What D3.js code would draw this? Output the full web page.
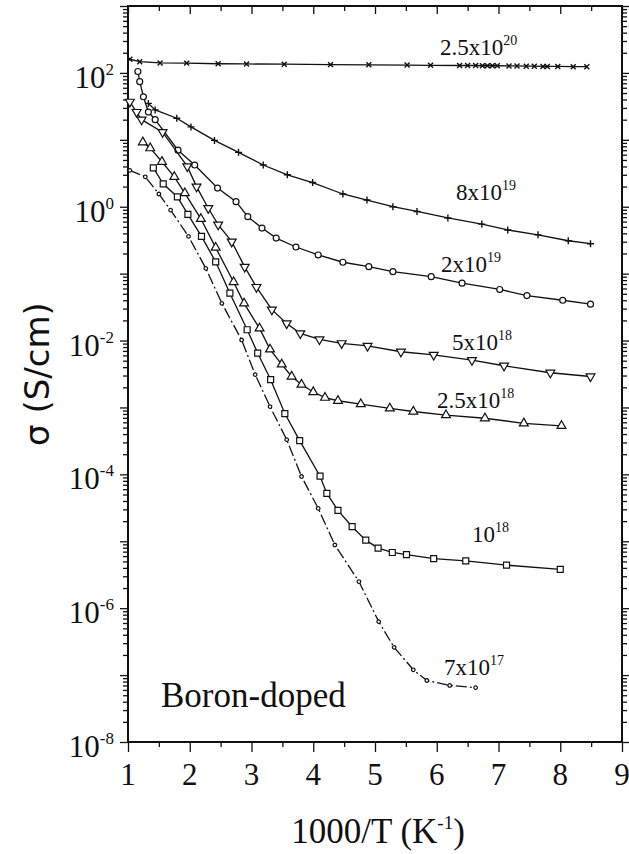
<!DOCTYPE html>
<html><head><meta charset="utf-8">
<script src="https://cdn.jsdelivr.net/npm/d3@7"></script>
<style>html,body{margin:0;padding:0;background:#fff;}svg{display:block;}</style>
</head><body><svg id="c" width="629" height="854"></svg>
<script>
// ---------- data ----------
const xTicks = [1,2,3,4,5,6,7,8,9];
const yLabelExps = [2,0,-2,-4,-6,-8];

const x25e20 = [1.03,1.19,1.52,1.95,2.46,2.92,3.53,4.28,4.90,5.52,5.90,6.37,6.50,6.63,6.74,6.82,6.90,6.98,7.17,7.30,7.45,7.58,7.72,7.79,7.96,8.21,8.43];
const y25e20 = [160,147,141,140,137,136,135,133,132,131,130,129,129,129,128,128,128,128,127,127,126,126,125,125,125,124,124];

const x8e19 = [1.33,1.44,1.79,2.02,2.40,2.79,3.19,3.58,3.99,4.48,4.87,5.29,5.68,6.18,6.73,7.15,7.64,8.13,8.49];
const y8e19 = [35,28,21,15.6,9.8,6.5,4.2,3.0,2.3,1.55,1.26,1.0,0.85,0.68,0.55,0.45,0.38,0.31,0.28];

const x2e19 = [1.16,1.19,1.25,1.33,1.44,1.81,2.08,2.45,2.75,2.94,3.17,3.40,3.72,4.08,4.48,4.90,5.29,5.91,6.41,7.02,7.46,8.04,8.49];
const y2e19 = [105,74,44,26,20,7,4.2,1.9,1.19,0.71,0.48,0.34,0.25,0.19,0.148,0.127,0.107,0.090,0.072,0.058,0.047,0.040,0.035];

const x5e18 = [1.03,1.14,1.22,1.56,1.96,2.11,2.30,2.46,2.68,2.89,3.08,3.33,3.57,3.79,4.10,4.46,4.88,5.42,5.95,6.57,7.09,7.84,8.49];
const y5e18 = [37,26,20,13,4.0,2.0,0.95,0.54,0.30,0.126,0.063,0.029,0.018,0.0128,0.0104,0.0091,0.0083,0.0068,0.0061,0.0051,0.0042,0.0033,0.0029];

const x25e18 = [1.24,1.36,1.55,1.75,1.92,2.18,2.42,2.71,2.88,3.13,3.30,3.49,3.65,3.81,4.0,4.19,4.40,4.77,5.24,5.62,6.15,6.78,7.41,8.02];
const y25e18 = [9.2,7.5,4.7,2.8,1.6,0.66,0.245,0.075,0.036,0.0152,0.0074,0.0044,0.0029,0.0022,0.0017,0.0014,0.00126,0.00112,0.00097,0.00087,0.00077,0.00069,0.00058,0.00053];

const x1e18 = [1.41,1.57,1.80,1.97,2.19,2.42,2.65,2.93,3.10,3.31,3.54,3.78,4.11,4.22,4.40,4.63,4.85,5.05,5.28,5.51,5.95,6.47,7.13,8.00];
const y1e18 = [3.8,2.2,1.4,0.77,0.36,0.15,0.051,0.0145,0.0065,0.0026,0.00081,0.00032,9.4e-5,5.2e-5,2.9e-5,1.65e-5,1.04e-5,7.9e-6,6.8e-6,6.3e-6,5.5e-6,5.1e-6,4.4e-6,3.8e-6];

const x7e17 = [1.03,1.28,1.50,1.69,1.98,2.26,2.52,2.84,3.06,3.30,3.57,3.81,4.08,4.35,4.74,5.06,5.31,5.62,5.84,6.21,6.63];
const y7e17 = [3.5,2.8,1.55,0.89,0.36,0.12,0.036,0.0102,0.0031,0.00103,0.00033,9.3e-5,3.1e-5,8.8e-6,2.5e-6,6.3e-7,2.6e-7,1.2e-7,8.3e-8,7e-8,6.5e-8];

const seriesNames = ["2.5x10^20","8x10^19","2x10^19","5x10^18","2.5x10^18","10^18","7x10^17"];

// ---------- layout ----------
const svg = d3.select("#c");
const L = 128, R = 622, T = 6, B = 742;
const x = d3.scaleLinear().domain([1,9]).range([L,R]);
const y = d3.scaleLog().domain([1e-8,1e3]).range([B,T]);
const serif = "'Liberation Serif','Times New Roman',serif";

// ---------- axes ticks ----------
const majY = d3.range(-8,4).map(e=>Math.pow(10,e));
const minY = [];
for (let e=-8;e<3;e++) for (let m=2;m<=9;m++) minY.push(m*Math.pow(10,e));
const majX = xTicks;
const minX = d3.range(1.5,9,1);

function tickAxis(gen, vals, size, tx, ty){
  const g = svg.append("g").attr("transform",`translate(${tx},${ty})`)
    .call(gen.tickValues(vals).tickSize(size).tickFormat(""));
  g.select(".domain").remove();
  g.selectAll("line").attr("stroke","#111").attr("stroke-width",1.3);
  return g;
}
tickAxis(d3.axisLeft(y), majY, 8, L, 0);
tickAxis(d3.axisLeft(y), minY, 5, L, 0);
tickAxis(d3.axisLeft(y), majY, -8, R, 0);
tickAxis(d3.axisLeft(y), minY, -5, R, 0);
tickAxis(d3.axisBottom(x), majX, 10, 0, B);
tickAxis(d3.axisBottom(x), minX, 5, 0, B);
tickAxis(d3.axisTop(x), majX, -8, 0, T);
tickAxis(d3.axisTop(x), minX, -5, 0, T);

// frame
svg.append("rect").attr("x",L).attr("y",T).attr("width",R-L).attr("height",B-T)
  .attr("fill","none").attr("stroke","#111").attr("stroke-width",2);

// x tick labels
svg.append("g").selectAll("text").data(xTicks).join("text")
  .attr("x",d=>x(d)).attr("y",785).attr("text-anchor","middle")
  .attr("font-family",serif).attr("font-size",31).attr("fill","#111").text(d=>d);

// y tick labels
const yl = svg.append("g").selectAll("text").data(yLabelExps).join("text")
  .attr("x",114).attr("y",d=>y(Math.pow(10,d))+15).attr("text-anchor","end")
  .attr("font-family",serif).attr("font-size",31).attr("fill","#111");
yl.append("tspan").text("10");
yl.append("tspan").attr("dy",-13).attr("font-size",17).text(d=>String(d));

// axis titles
svg.append("text").attr("x",378).attr("y",843).attr("text-anchor","middle")
  .attr("font-family",serif).attr("font-size",35).attr("fill","#111")
  .call(t=>{t.append("tspan").text("1000/T (K");
            t.append("tspan").attr("dy",-14).attr("font-size",19).text("-1");
            t.append("tspan").attr("dy",14).text(")");});
svg.append("text").attr("transform","translate(49,374) rotate(-90)").attr("text-anchor","middle")
  .attr("font-family","'DejaVu Sans',sans-serif").attr("font-size",34).attr("fill","#111")
  .text("σ (S/cm)");

svg.append("text").attr("x",161).attr("y",707).attr("font-family",serif)
  .attr("font-size",35).attr("fill","#111").text("Boron-doped");

// ---------- series ----------
const line = d3.line().x(d=>x(d[0])).y(d=>y(d[1]));
const zip = (a,b)=>a.map((v,i)=>[v,b[i]]);
const series = [
  {xs:x25e20, ys:y25e20, m:"x", dash:null},
  {xs:x8e19, ys:y8e19, m:"+", dash:null},
  {xs:x2e19, ys:y2e19, m:"o", dash:null},
  {xs:x5e18, ys:y5e18, m:"tdown", dash:null},
  {xs:x25e18, ys:y25e18, m:"tup", dash:null},
  {xs:x1e18, ys:y1e18, m:"sq", dash:null},
  {xs:x7e17, ys:y7e17, m:"dot", dash:"11,3,2,3"}
];
const symMap = {x:d3.symbolCross, "+":d3.symbolCross, o:d3.symbolCircle, tdown:d3.symbolTriangle,
  tup:d3.symbolTriangle, sq:d3.symbolSquare, dot:d3.symbolCircle};
series.forEach(s=>{
  const pts = zip(s.xs,s.ys);
  svg.append("path").attr("d",line(pts)).attr("fill","none").attr("stroke","#111")
    .attr("stroke-width",1.3).attr("stroke-dasharray",s.dash);
  const g = svg.append("g");
  pts.forEach(p=>{
    const cx = x(p[0]), cy = y(p[1]);
    if (s.m==="x" || s.m==="+") {
      const r = 3.5, rot = s.m==="x"?45:0;
      g.append("path").attr("transform",`translate(${cx},${cy}) rotate(${rot})`)
        .attr("d",`M${-r},0H${r}M0,${-r}V${r}`).attr("stroke","#111").attr("stroke-width",1.4);
    } else {
      const size = {o:28, tdown:34, tup:34, sq:36, dot:10}[s.m];
      const rot = s.m==="tdown"?180:0;
      g.append("path").attr("transform",`translate(${cx},${cy}) rotate(${rot})`)
        .attr("d",d3.symbol(symMap[s.m],size)()).attr("fill","#fff").attr("stroke","#111").attr("stroke-width",1.2);
    }
  });
});

// series labels
const labels = [
  {t:"2.5x10", s:"20", x:440, y:55},
  {t:"8x10", s:"19", x:456, y:200},
  {t:"2x10", s:"19", x:441, y:272},
  {t:"5x10", s:"18", x:452, y:350},
  {t:"2.5x10", s:"18", x:437, y:408},
  {t:"10", s:"18", x:472, y:542},
  {t:"7x10", s:"17", x:444, y:675}
];
const lt = svg.append("g").selectAll("text").data(labels).join("text")
  .attr("x",d=>d.x).attr("y",d=>d.y).attr("font-family",serif).attr("font-size",23).attr("fill","#111");
lt.append("tspan").text(d=>d.t);
lt.append("tspan").attr("dy",-10).attr("font-size",14).text(d=>d.s);
</script></body></html>
